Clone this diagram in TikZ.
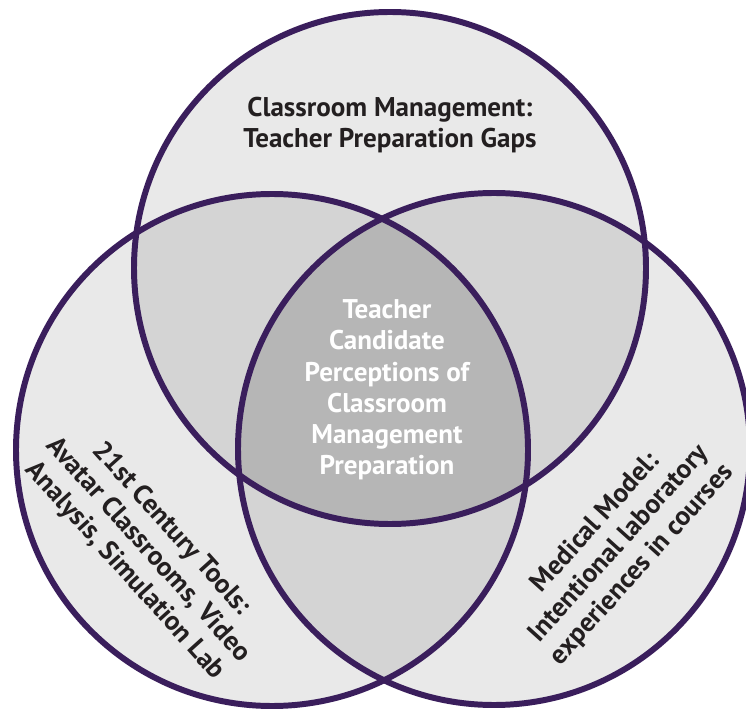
\documentclass[tikz,border=0pt]{standalone}
\usepackage{fontspec}
\setmainfont{PT Sans}
\usepackage{tikz}
\usetikzlibrary{positioning}
\definecolor{vennline}{RGB}{58,30,92}
\definecolor{vennink}{RGB}{35,31,32}
\definecolor{vennone}{RGB}{233,233,233}
\definecolor{venntwo}{RGB}{212,212,212}
\definecolor{vennthree}{RGB}{182,182,182}

\begin{document}
\begin{tikzpicture}[
  ring/.style={line width=3.4pt, draw=vennline},
  venntext/.style={font=\bfseries\fontsize{15.4}{17.8}\selectfont, align=center, text=vennink, inner sep=0pt},
]
  \useasboundingbox (0,0) rectangle (14.92,14.28);
  \clip (0,0) rectangle (14.92,14.28);
  % circle centres
  \coordinate (gaps) at (7.80,8.92);
  \coordinate (tools) at (5.44,5.28);
  \coordinate (model) at (9.88,5.30);
  \def\rad{5.12}
  % single areas
  \fill[vennone] (gaps) circle (\rad) (tools) circle (\rad) (model) circle (\rad);
  % two-way overlaps
  \begin{scope}
    \clip (gaps) circle (\rad);
    \fill[venntwo] (tools) circle (\rad) (model) circle (\rad);
  \end{scope}
  \begin{scope}
    \clip (tools) circle (\rad);
    \fill[venntwo] (model) circle (\rad);
  \end{scope}
  % centre overlap
  \begin{scope}
    \clip (gaps) circle (\rad);
    \clip (tools) circle (\rad);
    \fill[vennthree] (model) circle (\rad);
  \end{scope}
  % outlines
  \draw[ring] (gaps) circle (\rad);
  \draw[ring] (tools) circle (\rad);
  \draw[ring] (model) circle (\rad);
  % labels
  \node[venntext] (gapstext) at (7.80,11.78) {Classroom Management:\\Teacher Preparation Gaps};
  \node[venntext, text=white] (coretext) at (7.74,6.48) {Teacher\\Candidate\\Perceptions of\\Classroom\\Management\\Preparation};
  \node[venntext, rotate=-48] (toolstext) at (2.96,3.28) {21st Century Tools:\\Avatar Classrooms, Video\\Analysis, Simulation Lab};
  \node[venntext, rotate=48] (modeltext) at (12.38,3.40) {Medical Model:\\Intentional laboratory\\experiences in courses};
\end{tikzpicture}
\end{document}
